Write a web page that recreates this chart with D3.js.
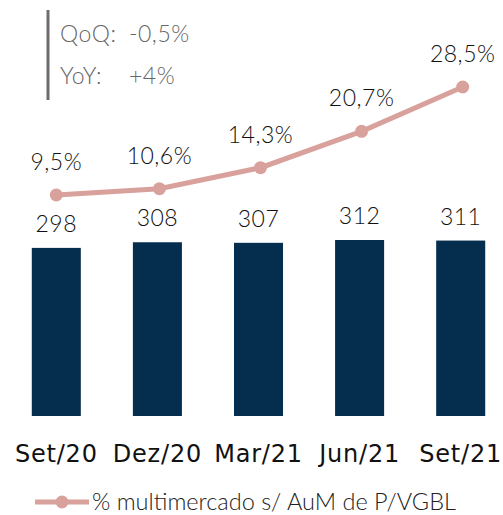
<!DOCTYPE html>
<html>
<head>
<meta charset="utf-8">
<script src="https://cdn.jsdelivr.net/npm/d3@7"></script>
<style>
  body { margin: 0; background: #fff; }
  svg text { font-family: Lato, "Open Sans", sans-serif; font-weight: 300; }
</style>
</head>
<body>
<svg id="chart" width="503" height="515"></svg>
<script>
// chart data
var categories = ["Set/20", "Dez/20", "Mar/21", "Jun/21", "Set/21"];
var aumValues = [298, 308, 307, 312, 311];
var pctValues = [9.5, 10.6, 14.3, 20.7, 28.5];
var pctLabels = ["9,5%", "10,6%", "14,3%", "20,7%", "28,5%"];
var kpiNames = ["QoQ:", "YoY:"];
var kpiValues = ["-0,5%", "+4%"];
var legendLabel = "% multimercado s/ AuM de P/VGBL";

var svg = d3.select("#chart");
var barColour = "#052e4e";
var lineColour = "#d9a19b";

var x = d3.scaleBand()
  .domain(categories)
  .range([6, 511])
  .paddingInner(0.515)
  .paddingOuter(0.255);

var yBar = d3.scaleLinear().domain([0, 312]).range([416, 240]);
var yLine = d3.scaleLinear().domain([0, 28.5]).range([249, 87]);

// bars
svg.selectAll("rect.bar").data(aumValues).enter()
  .append("rect")
  .attr("class", "bar")
  .attr("x", function (d, i) { return x(categories[i]); })
  .attr("y", function (d) { return yBar(d); })
  .attr("width", x.bandwidth())
  .attr("height", function (d) { return yBar(0) - yBar(d); })
  .attr("fill", barColour);

svg.selectAll("text.val").data(aumValues).enter()
  .append("text")
  .attr("class", "val")
  .attr("x", function (d, i) { return x(categories[i]) + x.bandwidth() / 2; })
  .attr("y", function (d) { return yBar(d) - 16; })
  .attr("text-anchor", "middle")
  .attr("font-size", 23)
  .attr("letter-spacing", 0.5)
  .attr("fill", "#111")
  .text(function (d) { return d; });

// line
var cx = function (d, i) { return x(categories[i]) + x.bandwidth() / 2 + (i > 0 ? 2 : 0); };
var line = d3.line()
  .x(function (d, i) { return cx(d, i); })
  .y(function (d) { return yLine(d); });

svg.append("path")
  .datum(pctValues)
  .attr("d", line)
  .attr("fill", "none")
  .attr("stroke", lineColour)
  .attr("stroke-width", 5);

svg.selectAll("circle.pt").data(pctValues).enter()
  .append("circle")
  .attr("class", "pt")
  .attr("cx", cx)
  .attr("cy", function (d) { return yLine(d); })
  .attr("r", 6.5)
  .attr("fill", lineColour);

svg.selectAll("text.pct").data(pctValues).enter()
  .append("text")
  .attr("class", "pct")
  .attr("x", cx)
  .attr("y", function (d) { return yLine(d) - 25; })
  .attr("text-anchor", "middle")
  .attr("font-size", 23)
  .attr("letter-spacing", 0.5)
  .attr("fill", "#111")
  .text(function (d, i) { return pctLabels[i]; });

// x axis labels
svg.selectAll("text.cat").data(categories).enter()
  .append("text")
  .attr("class", "cat")
  .attr("x", function (d) { return x(d) + x.bandwidth() / 2; })
  .attr("y", 462)
  .attr("text-anchor", "middle")
  .attr("font-size", 24)
  .attr("letter-spacing", 0.8)
  .style("font-family", "'DejaVu Sans', sans-serif")
  .style("font-weight", 400)
  .attr("fill", "#111")
  .text(function (d) { return d; });

// kpi box
svg.append("line")
  .attr("x1", 48).attr("x2", 48)
  .attr("y1", 10).attr("y2", 100)
  .attr("stroke", "#6d6d6f")
  .attr("stroke-width", 3);

svg.selectAll("text.kpi").data(kpiNames).enter()
  .append("text")
  .attr("class", "kpi")
  .attr("x", 60)
  .attr("y", function (d, i) { return 42 + i * 42; })
  .attr("font-size", 23)
  .attr("letter-spacing", 0.5)
  .attr("fill", "#666")
  .text(function (d) { return d; });

svg.selectAll("text.kpiv").data(kpiValues).enter()
  .append("text")
  .attr("class", "kpiv")
  .attr("x", 129)
  .attr("y", function (d, i) { return 42 + i * 42; })
  .attr("font-size", 23)
  .attr("letter-spacing", 0.5)
  .attr("fill", "#666")
  .text(function (d) { return d; });

// legend
svg.append("line")
  .attr("x1", 35).attr("x2", 89)
  .attr("y1", 502).attr("y2", 502)
  .attr("stroke", lineColour)
  .attr("stroke-width", 5);
svg.append("circle")
  .attr("cx", 62).attr("cy", 502).attr("r", 6.5)
  .attr("fill", lineColour);
svg.append("text")
  .attr("x", 92)
  .attr("y", 510)
  .attr("font-size", 23.5)
  .attr("fill", "#222")
  .text(legendLabel);
</script>
</body>
</html>
